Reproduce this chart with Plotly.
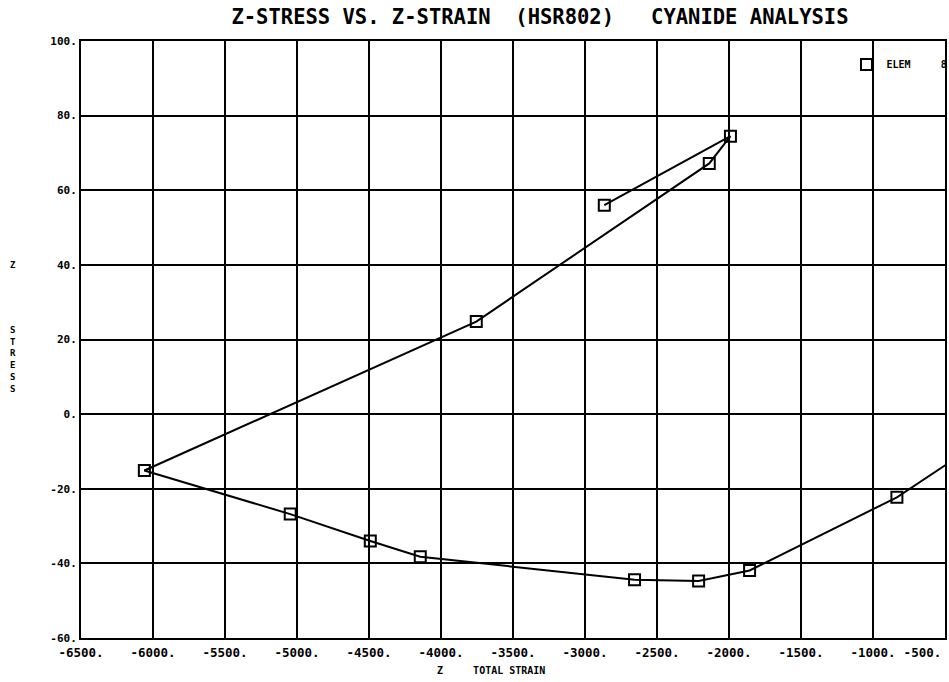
import plotly.graph_objects as go

# Data (path order as drawn)
strain = [-2866, -1990, -2137, -3755, -6060, -5047, -4491, -4144, -2656, -2211, -1857, -834, -300]
stress = [56.0, 74.5, 67.2, 24.8, -15.1, -26.8, -34.0, -38.2, -44.4, -44.7, -41.9, -22.3, -8.6]

x_ticks = [-6500, -6000, -5500, -5000, -4500, -4000, -3500, -3000, -2500, -2000, -1500, -1000, -500]
x_labels = ["-6500.", "-6000.", "-5500.", "-5000.", "-4500.", "-4000.", "-3500.",
            "-3000.", "-2500.", "-2000.", "-1500.", "-1000.", "-500."]
y_ticks = [-60, -40, -20, 0, 20, 40, 60, 80, 100]
y_labels = ["-60.", "-40.", "-20.", "0.", "20.", "40.", "60.", "80.", "100."]

title_text = "Z-STRESS VS. Z-STRAIN  (HSR802)   CYANIDE ANALYSIS"
legend_name = "ELEM\u00a0\u00a0\u00a0\u00a0\u00a08"

# the last label sits against the right edge, so pad it to shift it left
x_text = x_labels[:-1] + [x_labels[-1] + "\u00a0" * 6]

fig = go.Figure()
fig.add_trace(go.Scatter(
    x=strain, y=stress, mode="lines+markers",
    line=dict(color="black", width=2),
    marker=dict(symbol="square-open", size=11, color="black", line=dict(width=2)),
    showlegend=False, cliponaxis=True,
))
fig.add_trace(go.Scatter(
    x=[None], y=[None], mode="markers", name=legend_name,
    marker=dict(symbol="square-open", size=11, color="black", line=dict(width=2)),
    showlegend=True,
))

fig.update_layout(
    width=949, height=682,
    margin=dict(l=81, r=4, t=41, b=44, autoexpand=False),
    paper_bgcolor="white", plot_bgcolor="white",
    title=dict(text=title_text, x=0.569, xanchor="center", y=0.975, yanchor="middle",
               font=dict(family="DejaVu Sans Mono", size=20.5, color="black", weight="bold")),
    xaxis=dict(range=[-6500, -500], tickvals=x_ticks, ticktext=x_text, automargin=False,
               showgrid=True, gridcolor="black", gridwidth=2,
               showline=True, linecolor="black", linewidth=2, mirror=True,
               ticks="", zeroline=False, ticklabelstandoff=2, ticklabeloverflow="allow",
               tickfont=dict(family="DejaVu Sans Mono", size=12.5, color="black", weight="bold")),
    yaxis=dict(range=[-60, 100], tickvals=y_ticks, ticktext=y_labels, automargin=False,
               showgrid=True, gridcolor="black", gridwidth=2,
               showline=True, linecolor="black", linewidth=2, mirror=True,
               ticks="", zeroline=False, ticklabeloverflow="allow",
               tickfont=dict(family="DejaVu Sans Mono", size=11, color="black", weight="bold")),
    legend=dict(x=0.886, y=0.985, xanchor="left", yanchor="top",
                bgcolor="rgba(0,0,0,0)",
                font=dict(family="DejaVu Sans Mono", size=10, color="black", weight="bold")),
    annotations=[
        dict(text="Z", xref="paper", yref="paper", x=-0.079, y=0.625, showarrow=False,
             font=dict(family="DejaVu Sans Mono", size=9, color="black", weight="bold"),
             xanchor="center", yanchor="middle"),
        dict(text="S<br>T<br>R<br>E<br>S<br>S", xref="paper", yref="paper", x=-0.079, y=0.466,
             showarrow=False, xanchor="center", yanchor="middle",
             font=dict(family="DejaVu Sans Mono", size=9, color="black", weight="bold")),
        dict(text="Z\u00a0\u00a0\u00a0\u00a0\u00a0TOTAL STRAIN", xref="paper", yref="paper",
             x=0.41, y=-0.054, xanchor="left", yanchor="middle", showarrow=False,
             font=dict(family="DejaVu Sans Mono", size=10, color="black", weight="bold")),
    ],
)

fig.write_html("out.html", config={"displayModeBar": False},
               post_script="document.body.style.margin='0';")
